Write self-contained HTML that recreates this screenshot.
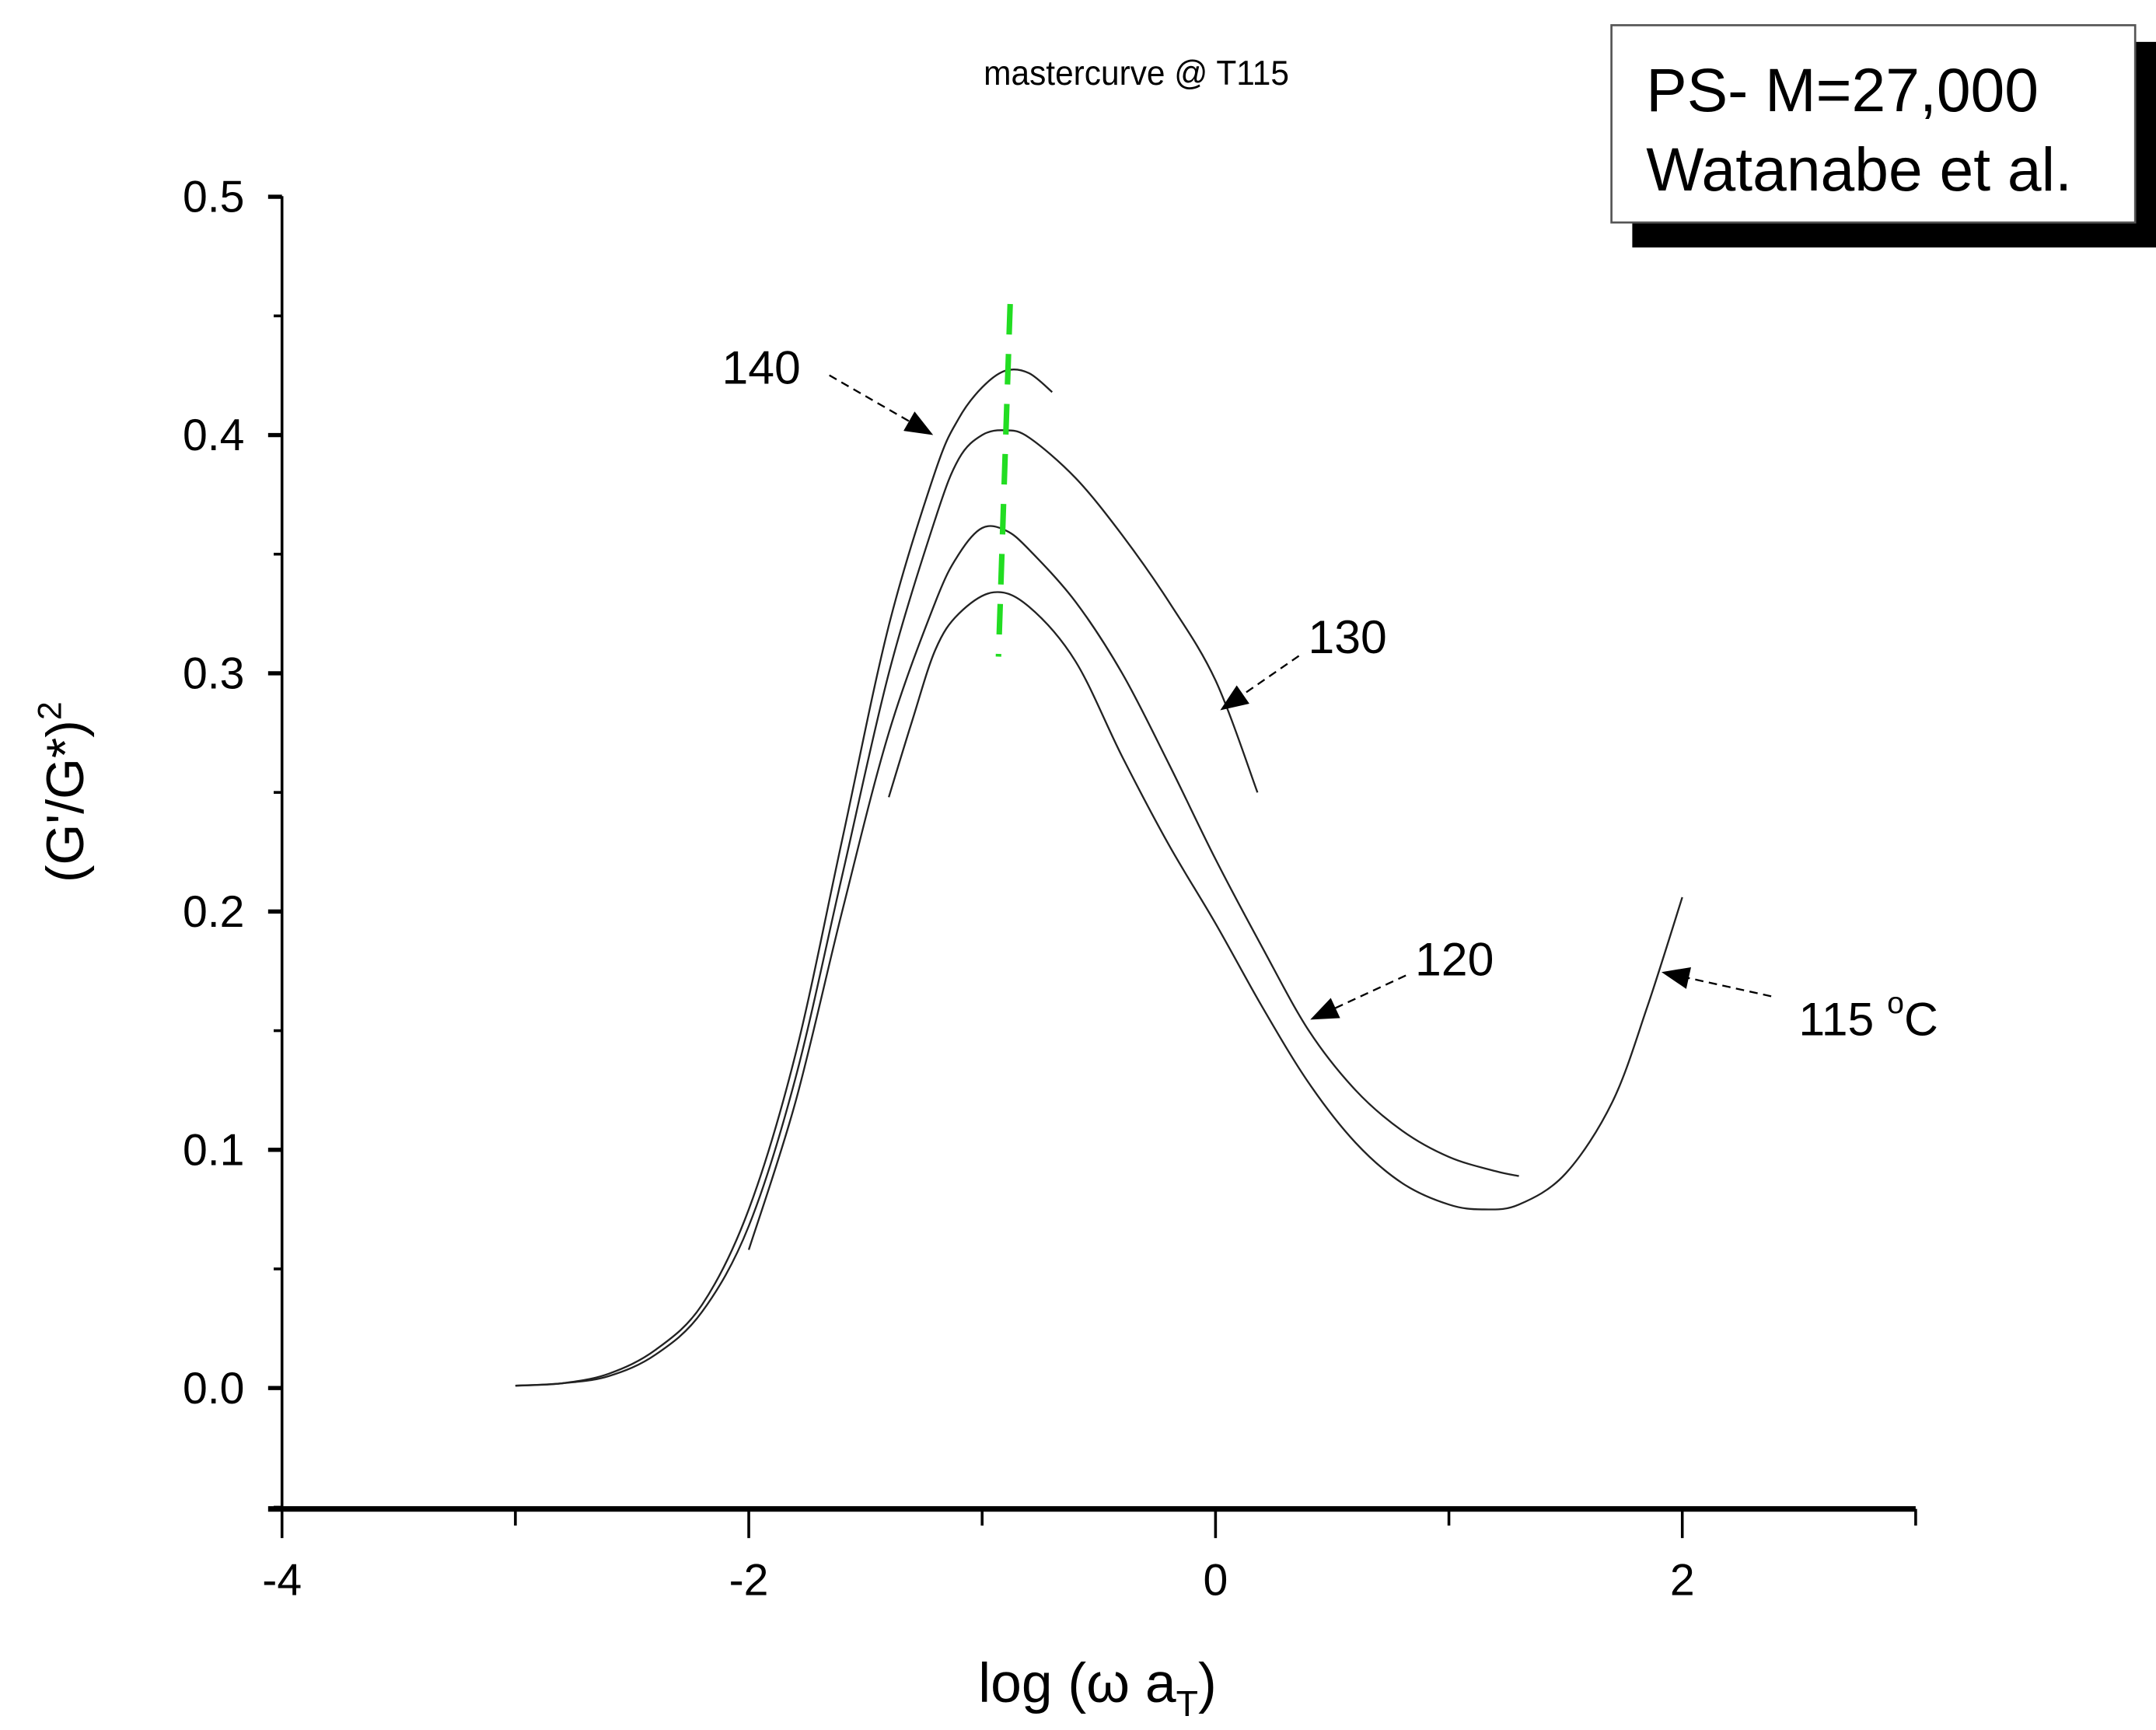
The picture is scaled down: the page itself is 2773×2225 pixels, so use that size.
<!DOCTYPE html>
<html><head><meta charset="utf-8"><style>
html,body{margin:0;padding:0;background:#fff;}
svg{display:block;font-family:"Liberation Sans",sans-serif;}
</style></head><body>
<svg id="chart" width="2773" height="2225" viewBox="0 0 1552 1245" xmlns="http://www.w3.org/2000/svg">
<rect x="0" y="0" width="1552" height="1245" fill="#fff"/>
<text x="818" y="61" font-size="25" text-anchor="middle" transform="translate(818,0) scale(0.95,1) translate(-818,0)">mastercurve @ T115</text>
<g>
<rect x="1175" y="30" width="377" height="148" fill="#000"/>
<rect x="1160" y="18" width="377" height="142" fill="#fff" stroke="#555" stroke-width="1.5"/>
<text x="1185" y="80" font-size="44">PS- M=27,000</text>
<text x="1185" y="137" font-size="44">Watanabe et al.</text>
</g>
<g id="axes"></g>
<g id="series"></g>
<g id="notes"></g>
<text x="790" y="1225" font-size="40" text-anchor="middle">log (ω a<tspan font-size="26" dy="10">T</tspan><tspan dy="-10">)</tspan></text>
<text transform="translate(60,570) rotate(-90)" font-size="38" text-anchor="middle">(G'/G*)<tspan font-size="24" dy="-16">2</tspan></text>
</svg>
<script>
const xTicks = [-4, -2, 0, 2];
const xMinor = [-3, -1, 1, 3];
const yTicks = [0.0, 0.1, 0.2, 0.3, 0.4, 0.5];
const yMinor = [0.05, 0.15, 0.25, 0.35, 0.45, -0.05];
const x140 = [-3,-2.8,-2.6,-2.4,-2.2,-2.0,-1.8,-1.6,-1.4,-1.2,-1.1,-1.0,-0.9,-0.8,-0.7];
const y140 = [0.001,0.002,0.006,0.016,0.035,0.075,0.14,0.23,0.32,0.385,0.407,0.42,0.427,0.426,0.418];
const x130 = [-3,-2.8,-2.6,-2.4,-2.2,-2.0,-1.8,-1.6,-1.4,-1.2,-1.1,-1.0,-0.9,-0.8,-0.6,-0.4,-0.2,0,0.18];
const y130 = [0.001,0.002,0.005,0.014,0.032,0.068,0.13,0.215,0.30,0.365,0.39,0.4,0.402,0.399,0.382,0.358,0.33,0.297,0.25];
const x120 = [-2.0,-1.8,-1.6,-1.4,-1.2,-1.1,-1.0,-0.9,-0.8,-0.6,-0.4,-0.2,0,0.2,0.4,0.6,0.8,1.0,1.2,1.3];
const y120 = [0.058,0.12,0.2,0.275,0.33,0.35,0.361,0.36,0.352,0.33,0.3,0.262,0.222,0.185,0.15,0.125,0.108,0.097,0.091,0.089];
const x115 = [-1.4,-1.3,-1.2,-1.1,-0.95,-0.8,-0.6,-0.4,-0.2,0,0.2,0.4,0.6,0.8,1.0,1.15,1.3,1.5,1.7,1.85,2.0];
const y115 = [0.248,0.28,0.31,0.325,0.334,0.328,0.305,0.265,0.228,0.195,0.16,0.128,0.103,0.086,0.077,0.075,0.077,0.09,0.12,0.16,0.206];
const peakX = [-0.88, -0.93];
const peakY = [0.455, 0.307];

const NS = "http://www.w3.org/2000/svg";
const X = v => 875 + v * 168;
const Y = v => 999 - v * 1715;
function mk(tag, attrs, parent){const e=document.createElementNS(NS,tag);for(const k in attrs)e.setAttribute(k,attrs[k]);parent.appendChild(e);return e;}
const axes=document.getElementById('axes');
let e;
e=mk('line',{x1:203,y1:141,x2:203,y2:1087,stroke:'#000','stroke-width':2},axes);


e=mk('line',{x1:193,y1:1086,x2:1379,y2:1086,stroke:'#000','stroke-width':4},axes);


xTicks.forEach(v=>{
  const t=mk('line',{x1:X(v),y1:1086,x2:X(v),y2:1107,stroke:'#000','stroke-width':2},axes);
  
  
  const l=mk('text',{x:X(v),y:1148,'font-size':32,'text-anchor':'middle'},axes);
  l.textContent=v;
  
  
});
xMinor.forEach(v=>{
  const t=mk('line',{x1:X(v),y1:1086,x2:X(v),y2:1098,stroke:'#000','stroke-width':2},axes);
  
  
});
yTicks.forEach(v=>{
  const t=mk('line',{x1:193,y1:Y(v),x2:203,y2:Y(v),stroke:'#000','stroke-width':3},axes);
  
  
  const l=mk('text',{x:176,y:Y(v)+11,'font-size':32,'text-anchor':'end'},axes);
  l.textContent=v.toFixed(1);
  
  
});
yMinor.forEach(v=>{
  const t=mk('line',{x1:197,y1:Y(v),x2:203,y2:Y(v),stroke:'#000','stroke-width':2},axes);
  
  
});
const series=document.getElementById('series');
function line(xs,ys,name){
  const P=xs.map((v,i)=>[X(v),Y(ys[i])]);
  let d='M'+P[0][0].toFixed(1)+' '+P[0][1].toFixed(1);
  for(let i=0;i<P.length-1;i++){
    const p0=P[i-1]||P[i],p1=P[i],p2=P[i+1],p3=P[i+2]||P[i+1];
    const c1=[p1[0]+(p2[0]-p0[0])/6,p1[1]+(p2[1]-p0[1])/6];
    const c2=[p2[0]-(p3[0]-p1[0])/6,p2[1]-(p3[1]-p1[1])/6];
    d+=' C'+c1.map(n=>n.toFixed(1)).join(' ')+' '+c2.map(n=>n.toFixed(1)).join(' ')+' '+p2.map(n=>n.toFixed(1)).join(' ');
  }
  const p=mk('path',{d:d,fill:'none',stroke:'#222','stroke-width':1.3},series);
  
  
}
line(x140,y140,'curve-140');
line(x130,y130,'curve-130');
line(x120,y120,'curve-120');
line(x115,y115,'curve-115');
e=mk('line',{x1:X(peakX[0]),y1:Y(peakY[0]),x2:X(peakX[1]),y2:Y(peakY[1]),stroke:'#22dd22','stroke-width':4,'stroke-dasharray':'22 14'},series);


const notes=document.getElementById('notes');
mk('defs',{},notes).innerHTML='<marker id="ah" markerWidth="26" markerHeight="16" refX="9" refY="4" orient="auto" markerUnits="userSpaceOnUse" viewBox="0 0 10 8"><path d="M0 0L10 4L0 8Z" fill="#000"/></marker>';
function note(tx,ty,label,ax1,ay1,ax2,ay2,name){
  const t=mk('text',{x:tx,y:ty,'font-size':34,'text-anchor':'middle'},notes);
  t.innerHTML=label;
  
  
  const a=mk('line',{x1:ax1,y1:ay1,x2:ax2,y2:ay2,stroke:'#000','stroke-width':1.3,'stroke-dasharray':'6 4','marker-end':'url(#ah)'},notes);
  
  
}
note(548,276,'140',597,270,670,312,'annotation-140');
note(970,470,'130',935,472,880,510,'annotation-130');
note(1047,702,'120',1012,702,945,733,'annotation-120');
note(1345,745,'115 <tspan font-size="22" dy="-16">o</tspan><tspan dy="16">C</tspan>',1275,717,1198,700,'annotation-115');
</script>
</body></html>
